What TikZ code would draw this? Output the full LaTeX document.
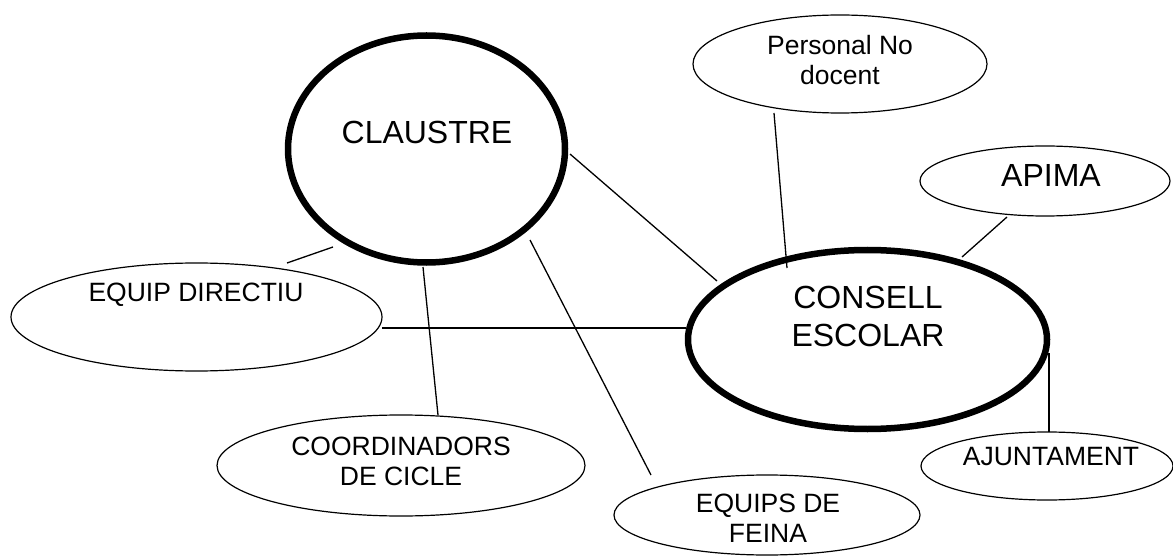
\documentclass[tikz,border=0pt]{standalone}
\usepackage{fontspec}
\setmainfont{Liberation Sans}
\usetikzlibrary{shapes.geometric}
\tikzset{
  thinell/.style={draw=black, line width=1.2pt, ellipse, inner sep=0pt, outer sep=0pt},
  thickell/.style={draw=black, line width=6.5pt, ellipse, inner sep=0pt, outer sep=0pt},
  bigtxt/.style={font=\fontsize{32}{38}\selectfont, align=center, inner sep=0pt},
  smalltxt/.style={font=\fontsize{26.5}{30}\selectfont, align=center, inner sep=0pt},
  link/.style={draw=black, line width=1.3pt}
}
\begin{document}
\begin{tikzpicture}[x=1pt,y=-1pt]
\useasboundingbox[fill=white] (0,0) rectangle (1173,556);
% ellipses
\node[thickell, minimum width=277pt, minimum height=227pt] (claustre) at (426.5,149) {};
\node[thickell, minimum width=359pt, minimum height=179pt] (consell) at (867.5,339.5) {};
\node[thinell, minimum width=294pt, minimum height=98pt] (personal) at (840,64) {};
\node[thinell, minimum width=250pt, minimum height=70pt] (apima) at (1045,181) {};
\node[thinell, minimum width=252pt, minimum height=68pt] (ajunt) at (1047,466) {};
\node[thinell, minimum width=306pt, minimum height=80pt] (equips) at (767,515) {};
\node[thinell, minimum width=371pt, minimum height=108pt] (directiu) at (196.5,317) {};
\node[thinell, minimum width=368pt, minimum height=101pt] (coord) at (401,465.5) {};
% texts
\node[bigtxt] (claustreT) at (427,132) {CLAUSTRE};
\node[bigtxt] (consellT) at (868,316) {CONSELL\\ESCOLAR};
\node[bigtxt] (apimaT) at (1051,175) {APIMA};
\node[smalltxt] (personalT) at (840,60) {Personal No\\docent};
\node[smalltxt] (ajuntT) at (1051,457) {AJUNTAMENT};
\node[smalltxt] (equipsT) at (768,518) {EQUIPS DE\\FEINA};
\node[smalltxt] (directiuT) at (196,295) {EQUIP DIRECTIU};
\node[smalltxt] (coordT) at (401,461) {COORDINADORS\\DE CICLE};
% connector end points
\coordinate (c1a) at (570,154);
\coordinate (c1b) at (717,281);
\coordinate (c2a) at (774,113);
\coordinate (c2b) at (787,268);
\coordinate (c3a) at (1007,217);
\coordinate (c3b) at (962,257);
\coordinate (c4a) at (1049,353);
\coordinate (c4b) at (1049,432);
\coordinate (c5a) at (382,328);
\coordinate (c5b) at (686,328);
\coordinate (c6a) at (287,263);
\coordinate (c6b) at (333,247);
\coordinate (c7a) at (423,267);
\coordinate (c7b) at (438,415);
\coordinate (c8a) at (530,240);
\coordinate (c8b) at (651,475);
% connectors
\draw[link] (c1a) -- (c1b);
\draw[link] (c2a) -- (c2b);
\draw[link] (c3a) -- (c3b);
\draw[link] (c4a) -- (c4b);
\draw[link] (c5a) -- (c5b);
\draw[link] (c6a) -- (c6b);
\draw[link] (c7a) -- (c7b);
\draw[link] (c8a) -- (c8b);
\end{tikzpicture}
\end{document}
